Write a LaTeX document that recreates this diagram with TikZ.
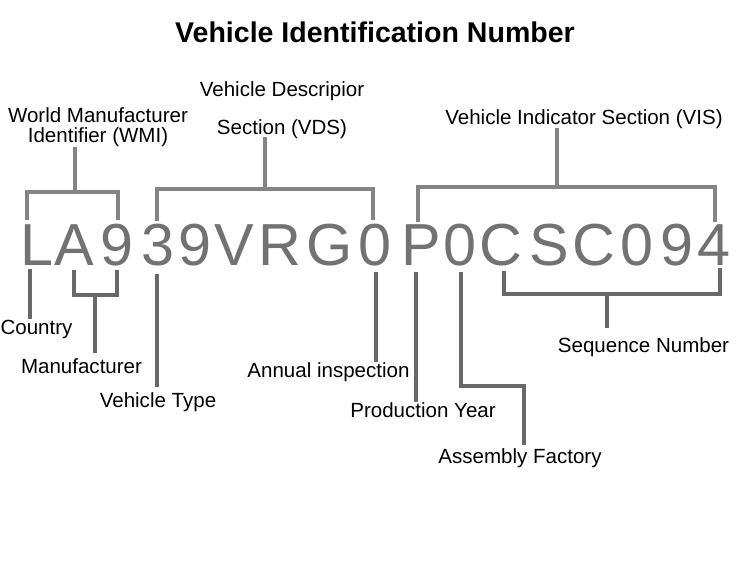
\documentclass[tikz,border=0pt]{standalone}
\usepackage{fontspec}
\setmainfont{Liberation Sans}
\usepackage{xcolor}
\definecolor{vingray}{HTML}{727272}
\definecolor{brkgray}{HTML}{848484}
\definecolor{leadgray}{HTML}{686868}
\usepackage{tikz}
\usetikzlibrary{positioning, calc}

\begin{document}
\begin{tikzpicture}[
  x=0.75pt, y=-0.75pt,
  vin/.style={anchor=base, inner sep=0pt, text=vingray,
    font=\fontsize{44.5}{44.5}\selectfont},
  label/.style={inner sep=0pt, align=center, text=black,
    font=\fontsize{15.4}{15}\selectfont},
  brk/.style={draw=brkgray, line width=2.3pt},
  lead/.style={draw=leadgray, line width=2.3pt}
]
  \useasboundingbox (0,0) rectangle (750,563);

  % Title
  \node[anchor=base, inner sep=0pt, font=\fontsize{21.4}{21.4}\selectfont\bfseries] (title) at (375,43) {Vehicle Identification Number};

  % The number itself
  \foreach \x/\c [count=\i] in {36.5/L, 74/A, 117/9, 157.5/3, 195/9, 234/V, 280/R, 330/G,
      375/0, 421/P, 460/0, 501/C, 549/S, 594/C, 637/0, 677/9, 714/4}
    \node[vin] (v\i) at (\x,265.5) {\c};

  % Section labels
  \node[label, anchor=south] (wmi) at (98,147.5) {World Manufacturer\\Identifier (WMI)};
  \node[label, anchor=south] (vds) at (282,139.5) {Vehicle Descripior\\[13.5pt]Section (VDS)};
  \node[label, anchor=base] (vis) at (584,125) {Vehicle Indicator Section (VIS)};

  % Section brackets
  \coordinate (wmiL) at (27,220);  \coordinate (wmiR) at (118,220);  \coordinate (wmiT) at (75,192);
  \coordinate (vdsL) at (157,221); \coordinate (vdsR) at (373,220);  \coordinate (vdsT) at (265,189);
  \coordinate (visL) at (418,222); \coordinate (visR) at (715,222);  \coordinate (visT) at (557,187);
  \draw[brk] (wmiL) -- (wmiL |- wmiT) -- (wmiR |- wmiT) -- (wmiR);
  \draw[brk] (wmiT) -- (wmi.south -| wmiT);
  \draw[brk] (vdsL) -- (vdsL |- vdsT) -- (vdsR |- vdsT) -- (vdsR);
  \draw[brk] (vdsT) -- ([yshift=1.5pt]vds.south -| vdsT);
  \draw[brk] (visL) -- (visL |- visT) -- (visR |- visT) -- (visR);
  \draw[brk] (visT) -- ([yshift=-2pt]vis.base -| visT);

  % Position labels
  \node[label, anchor=base] (country) at (36.5,334) {Country};
  \node[label, anchor=base] (manu) at (81.5,373) {Manufacturer};
  \node[label, anchor=base] (vtype) at (158,407) {Vehicle Type};
  \node[label, anchor=base] (annual) at (328.5,377) {Annual inspection};
  \node[label, anchor=base] (year) at (423,417) {Production Year};
  \node[label, anchor=base] (factory) at (520,463) {Assembly Factory};
  \node[label, anchor=base] (seq) at (643.5,352) {Sequence Number};

  % Leads from the characters
  \coordinate (pCountry) at (30,269);
  \coordinate (manuL) at (74,270);  \coordinate (manuR) at (117,270); \coordinate (manuT) at (95,295);
  \coordinate (pType) at (157,274);
  \coordinate (pAnnual) at (376,272);
  \coordinate (pYear) at (416,272);
  \coordinate (pFactory) at (461,272); \coordinate (factoryK) at (524,386);
  \coordinate (seqL) at (504,271); \coordinate (seqR) at (720,268); \coordinate (seqT) at (607,294);

  \draw[lead] (pCountry) -- (country.north -| pCountry);
  \draw[lead] (manuL) -- (manuL |- manuT) -- (manuR |- manuT) -- (manuR);
  \draw[lead, shorten >=3.5pt] (manuT) -- (manu.north -| manuT);
  \draw[lead, shorten >=4pt] (pType) -- (vtype.north -| pType);
  \draw[lead] (pAnnual) -- (annual.north -| pAnnual);
  \draw[lead] (pYear) -- (year.north -| pYear);
  \draw[lead] (pFactory) |- (factoryK) -- ([yshift=2pt]factory.north -| factoryK);
  \draw[lead] (seqL) -- (seqL |- seqT) -- (seqR |- seqT) -- (seqR);
  \draw[lead, shorten >=6.5pt] (seqT) -- (seq.north -| seqT);

\end{tikzpicture}
\end{document}
